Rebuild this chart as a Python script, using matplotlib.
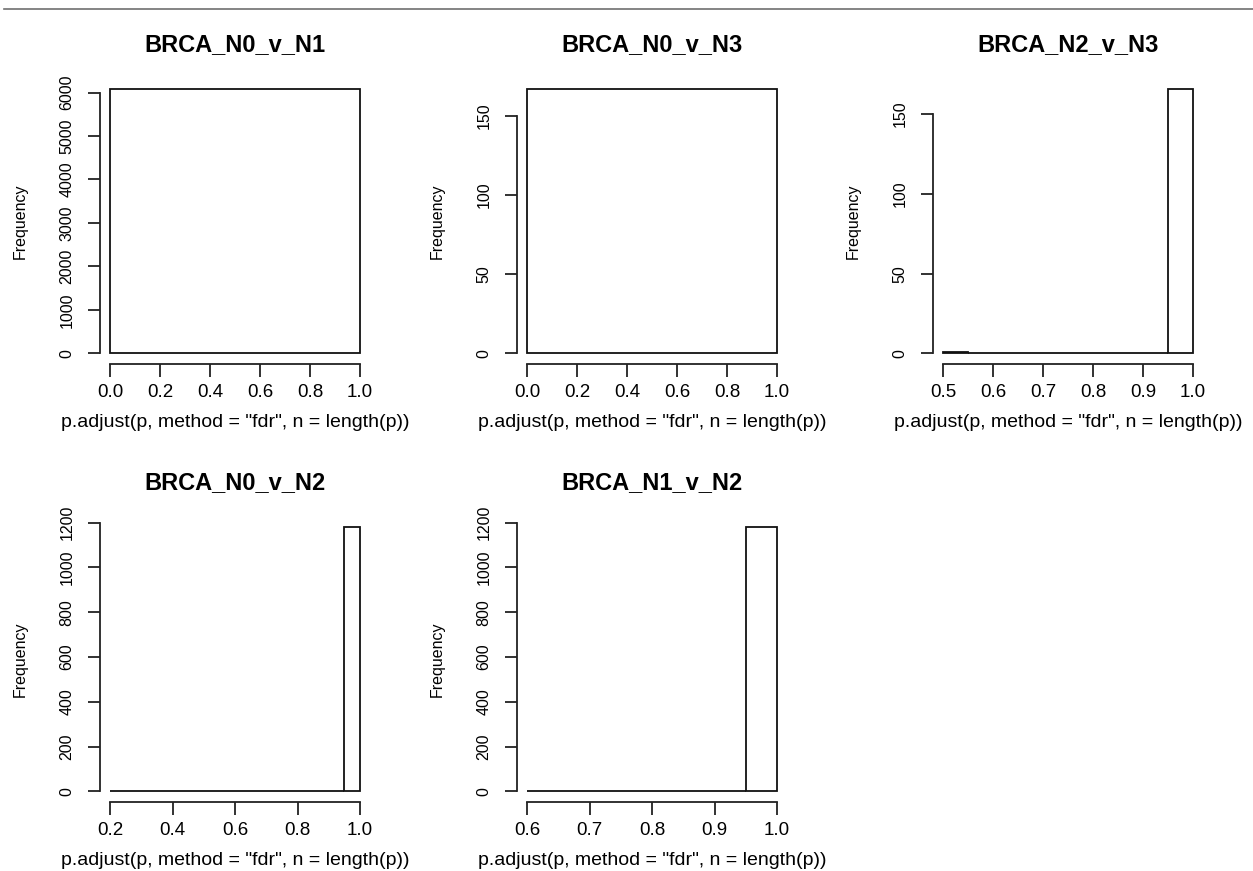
import numpy as np
import matplotlib
matplotlib.use("Agg")
import matplotlib.pyplot as plt
from matplotlib.lines import Line2D

plt.rcParams['font.family'] = ['Liberation Sans', 'DejaVu Sans']

# panel titles, row by row
titles = ["BRCA_N0_v_N1", "BRCA_N0_v_N3", "BRCA_N2_v_N3", "BRCA_N0_v_N2", "BRCA_N1_v_N2"]

# histogram breaks and counts
breaks_n0n1 = [0.0, 1.0]
counts_n0n1 = [6090]
breaks_n0n3 = [0.0, 1.0]
counts_n0n3 = [167]
breaks_n2n3 = [0.5, 0.55, 0.6, 0.65, 0.7, 0.75, 0.8, 0.85, 0.9, 0.95, 1.0]
counts_n2n3 = [1, 0, 0, 0, 0, 0, 0, 0, 0, 166]
breaks_n0n2 = [0.2, 0.25, 0.3, 0.35, 0.4, 0.45, 0.5, 0.55, 0.6,
               0.65, 0.7, 0.75, 0.8, 0.85, 0.9, 0.95, 1.0]
counts_n0n2 = [1, 0, 0, 0, 0, 0, 0, 0, 0, 0, 0, 0, 0, 0, 0, 1182]
breaks_n1n2 = [0.6, 0.65, 0.7, 0.75, 0.8, 0.85, 0.9, 0.95, 1.0]
counts_n1n2 = [1, 0, 0, 0, 0, 0, 0, 1182]

# axis ticks
xticks = [[0.0, 0.2, 0.4, 0.6, 0.8, 1.0],
          [0.0, 0.2, 0.4, 0.6, 0.8, 1.0],
          [0.5, 0.6, 0.7, 0.8, 0.9, 1.0],
          [0.2, 0.4, 0.6, 0.8, 1.0],
          [0.6, 0.7, 0.8, 0.9, 1.0]]
yticks = [[0, 1000, 2000, 3000, 4000, 5000, 6000],
          [0, 50, 100, 150],
          [0, 50, 100, 150],
          [0, 200, 400, 600, 800, 1000, 1200],
          [0, 200, 400, 600, 800, 1000, 1200]]

all_breaks = [breaks_n0n1, breaks_n0n3, breaks_n2n3, breaks_n0n2, breaks_n1n2]
all_counts = [counts_n0n1, counts_n0n3, counts_n2n3, counts_n0n2, counts_n1n2]

xlab = 'p.adjust(p, method = "fdr", n = length(p))'

W, H = 1253, 871
fig = plt.figure(figsize=(W / 100, H / 100), dpi=100)

# top rule across the page
fig.add_artist(Line2D([4 / W, 1.0], [1 - 9.5 / H, 1 - 9.5 / H],
                      color="#707070", lw=1.2, transform=fig.transFigure))

col_left = [100, 517, 933]
row_top = [78, 516]
aw, ah = 270, 286

lw = 1.3
for i in range(5):
    r, c = divmod(i, 3)
    left = col_left[c]
    top = row_top[r]
    ax = fig.add_axes([left / W, 1 - (top + ah) / H, aw / W, ah / H])

    br = np.array(all_breaks[i])
    cn = np.array(all_counts[i])
    ax.bar(br[:-1], cn, width=np.diff(br), align="edge",
           facecolor="white", edgecolor="#111111", linewidth=lw)

    # R style 4% padding on both axes
    x0, x1 = br[0], br[-1]
    dx = (x1 - x0) * 0.04
    ax.set_xlim(x0 - dx, x1 + dx)
    ymax = cn.max()
    ax.set_ylim(-0.04 * ymax, 1.04 * ymax)

    for s in ["top", "right"]:
        ax.spines[s].set_visible(False)
    for s in ["left", "bottom"]:
        ax.spines[s].set_linewidth(lw)
        ax.spines[s].set_color("#222222")
    ax.spines["left"].set_bounds(yticks[i][0], yticks[i][-1])
    ax.spines["bottom"].set_bounds(xticks[i][0], xticks[i][-1])

    ax.set_xticks(xticks[i])
    ax.set_xticklabels(["%.1f" % v for v in xticks[i]])
    ax.set_yticks(yticks[i])
    ax.set_yticklabels([str(v) for v in yticks[i]], rotation=90, va="center")
    ax.tick_params(axis="both", direction="out", length=9, width=lw, color="#222222")
    ax.tick_params(axis="x", labelsize=13.5, pad=5.5)
    ax.tick_params(axis="y", labelsize=11.5, pad=9.5)

    ax.set_title(titles[i], fontsize=17, fontweight="bold", pad=19.5)

    ax.set_xlabel(xlab, fontsize=14)
    ax.xaxis.set_label_coords(0.5, -58 / ah)
    ax.xaxis.label.set_verticalalignment("center")
    ax.set_ylabel("Frequency", fontsize=11.5)
    ax.yaxis.set_label_coords(-80 / aw, 0.5)
    ax.yaxis.label.set_verticalalignment("center")
    ax.patch.set_alpha(0)

fig.savefig("out.png", dpi=100, facecolor="white")
